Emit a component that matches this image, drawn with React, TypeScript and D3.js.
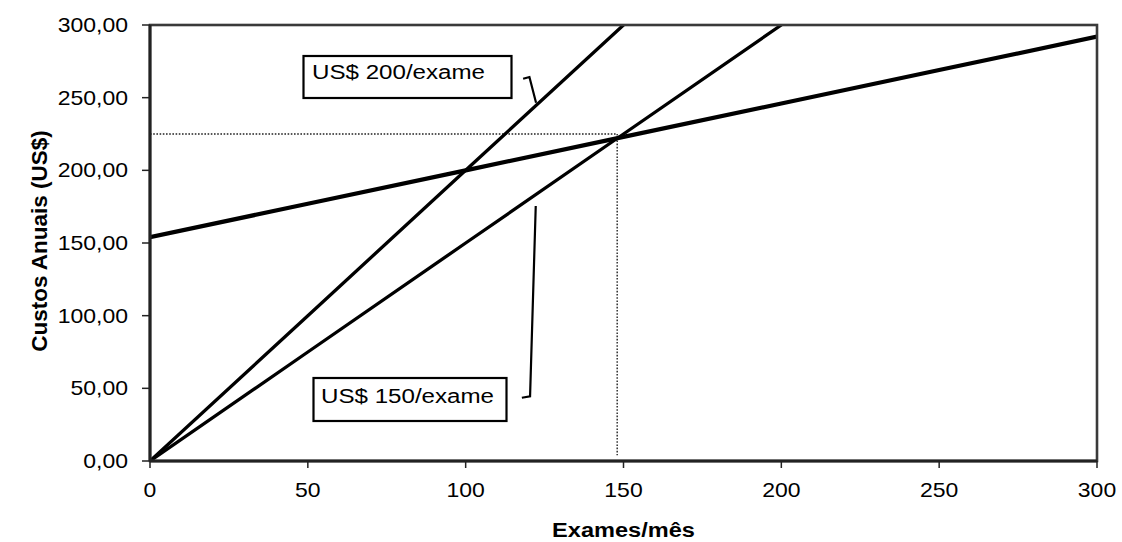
import React from "react";
import * as d3 from "d3";

// Exams per month (x) and annual cost series (y), in US$
const examesMes = [0, 50, 100, 150, 200, 250, 300];
const custoFixo = [154, 177, 200, 223, 246, 269, 292];
const examesUS200 = [0, 50, 100, 150];
const custoUS200 = [0, 100, 200, 300];
const examesUS150 = [0, 50, 100, 150, 200];
const custoUS150 = [0, 75, 150, 225, 300];

const xTicks = [0, 50, 100, 150, 200, 250, 300];
const yTicks = [0, 50, 100, 150, 200, 250, 300];

// Break-even reference (dotted guides)
const equilibrioExames = 148;
const equilibrioCusto = 225;
const guiaBase = 4;

// Callout labels and their leader lines, in data units
const rotulo200 = "US$ 200/exame";
const rotulo150 = "US$ 150/exame";
const guia200: [number, number][] = [[118.2, 263], [120.2, 264.2], [122.3, 246.5]];
const guia150: [number, number][] = [[117.8, 43.5], [120.4, 44.5], [122.2, 175.5]];

const W = 1122;
const H = 542;
const M = { left: 150, right: 1097, top: 25, bottom: 461 };
const SX = 1.15; // horizontal text stretch
const FONT = "'Liberation Sans', Arial, Helvetica, sans-serif";

const fmt = d3.formatLocale({ decimal: ",", thousands: ".", grouping: [3], currency: ["", ""] }).format(".2f");

function SText(props: { x: number; y: number; size: number; anchor?: string; bold?: boolean; children: React.ReactNode }) {
  const { x, y, size, anchor = "start", bold = false, children } = props;
  return (
    <text
      transform={`translate(${x},${y}) scale(${SX},1)`}
      textAnchor={anchor}
      fontFamily={FONT}
      fontSize={size}
      fontWeight={bold ? "bold" : "normal"}
      fill="#000"
    >
      {children}
    </text>
  );
}

export default function App() {
  const x = d3.scaleLinear().domain([0, 300]).range([M.left, M.right]);
  const y = d3.scaleLinear().domain([0, 300]).range([M.bottom, M.top]);
  const line = d3.line<[number, number]>().x((d) => x(d[0])).y((d) => y(d[1]));

  const fixo = examesMes.map((e, i) => [e, custoFixo[i]] as [number, number]);
  const s200 = examesUS200.map((e, i) => [e, custoUS200[i]] as [number, number]);
  const s150 = examesUS150.map((e, i) => [e, custoUS150[i]] as [number, number]);

  return (
    <svg width={W} height={H} style={{ position: "absolute", left: 0, top: 0, background: "#fff" }}>
      <defs>
        <clipPath id="plot">
          <rect x={M.left} y={M.top} width={M.right - M.left} height={M.bottom - M.top} />
        </clipPath>
      </defs>

      {/* dotted break-even guides */}
      <path
        d={line([[0, equilibrioCusto], [equilibrioExames, equilibrioCusto]]) || ""}
        stroke="#222"
        strokeWidth={1.4}
        strokeDasharray="1.6,1.6"
        fill="none"
      />
      <path
        d={line([[equilibrioExames, equilibrioCusto], [equilibrioExames, guiaBase]]) || ""}
        stroke="#222"
        strokeWidth={1.4}
        strokeDasharray="1.6,1.6"
        fill="none"
      />

      {/* cost lines */}
      <g clipPath="url(#plot)" fill="none" stroke="#000" strokeLinecap="round">
        <path d={line(s200) || ""} strokeWidth={3.3} />
        <path d={line(s150) || ""} strokeWidth={3.3} />
        <path d={line(fixo) || ""} strokeWidth={4.2} />
      </g>

      {/* frame */}
      <rect
        x={M.left}
        y={M.top}
        width={M.right - M.left}
        height={M.bottom - M.top}
        fill="none"
        stroke="#3a3a3a"
        strokeWidth={2.6}
      />
      <line x1={M.left} x2={M.left} y1={M.top} y2={M.bottom} stroke="#222" strokeWidth={3} />
      <line x1={M.left} x2={M.right} y1={M.bottom} y2={M.bottom} stroke="#222" strokeWidth={3} />

      {/* y axis ticks and labels */}
      {yTicks.map((t) => (
        <g key={"y" + t}>
          <line x1={M.left - 8} x2={M.left} y1={y(t)} y2={y(t)} stroke="#222" strokeWidth={1.5} />
          <SText x={M.left - 22} y={y(t) + 7} size={20} anchor="end">
            {fmt(t)}
          </SText>
        </g>
      ))}

      {/* x axis ticks and labels */}
      {xTicks.map((t) => (
        <g key={"x" + t}>
          <line x1={x(t)} x2={x(t)} y1={M.bottom} y2={M.bottom + 7} stroke="#222" strokeWidth={1.5} />
          <SText x={x(t)} y={497} size={20} anchor="middle">
            {String(t)}
          </SText>
        </g>
      ))}

      {/* axis titles */}
      <SText x={(M.left + M.right) / 2} y={537} size={20.5} anchor="middle" bold>
        Exames/mês
      </SText>
      <text
        transform={`translate(47,241) rotate(-90)`}
        textAnchor="middle"
        fontFamily={FONT}
        fontSize={22.5}
        fontWeight="bold"
        fill="#000"
      >
        Custos Anuais (US$)
      </text>

      {/* callouts */}
      <rect x={303.5} y={56} width={208} height={42} fill="#fff" stroke="#000" strokeWidth={2.2} />
      <SText x={312} y={79} size={21}>
        {rotulo200}
      </SText>
      <path d={line(guia200) || ""} fill="none" stroke="#000" strokeWidth={2.2} />

      <rect x={313.5} y={378} width={193} height={43} fill="#fff" stroke="#000" strokeWidth={2.2} />
      <SText x={321} y={403} size={21}>
        {rotulo150}
      </SText>
      <path d={line(guia150) || ""} fill="none" stroke="#000" strokeWidth={2.2} />
    </svg>
  );
}
